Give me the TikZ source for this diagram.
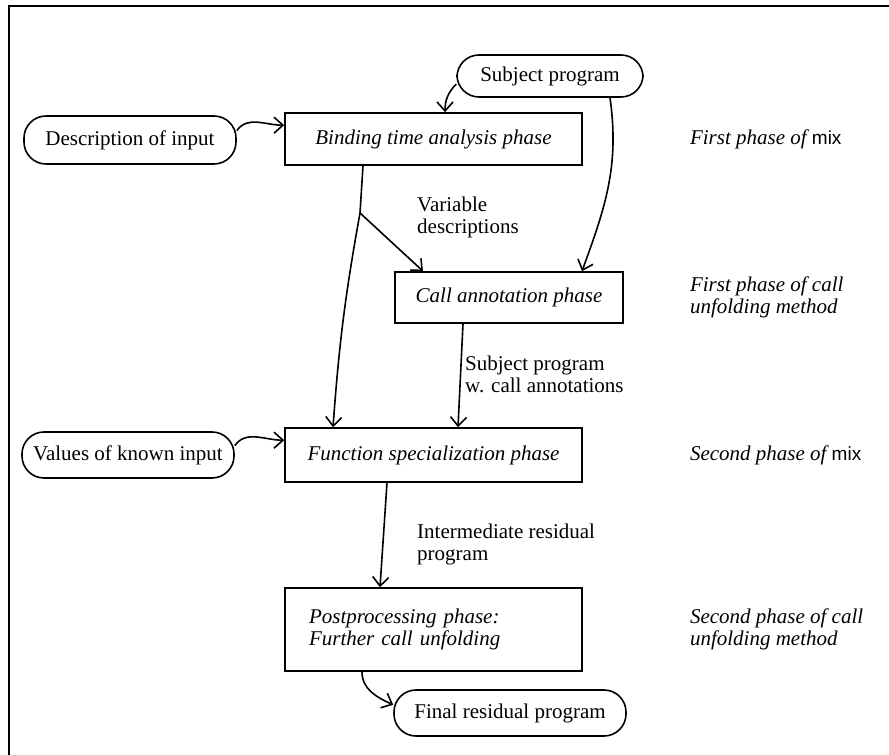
\documentclass[tikz,border=0pt]{standalone}
\usepackage{fontspec}
\setmainfont{Liberation Serif}
\setsansfont{Liberation Sans}
\usetikzlibrary{arrows.meta, positioning}

\newcommand{\mixname}{{\upshape\sffamily\fontsize{19}{22}\selectfont mix}}

\begin{document}
\begin{tikzpicture}[
    x=1pt, y=1pt,
    every node/.style={font=\fontsize{21}{22}\selectfont},
    phase/.style={
        rectangle, draw, line width=1.6pt,
        minimum width=297pt, inner sep=0pt,
        font=\fontsize{21}{22}\selectfont\itshape
    },
    blob/.style={
        rectangle, draw, rounded corners=22pt,
        line width=1.6pt, inner sep=0pt
    },
    side/.style={
        font=\fontsize{21}{22}\selectfont\itshape,
        align=left, inner sep=0pt
    },
    flowlabel/.style={align=left, inner sep=0pt, anchor=west},
    arr/.style={
        -{Straight Barb[length=9pt,width=16pt]},
        line width=1.6pt
    },
]
\useasboundingbox (0,0) rectangle (889,755);

% frame
\draw[line width=1.6pt] (9,0) -- (9,749) -- (889,749);

% ROW 1
\node[blob, minimum width=186pt, minimum height=42pt] (subj) at (550,679) {Subject program};
\node[phase, minimum height=52pt] (bta) at (433.5,616) {Binding time analysis phase};
\node[blob, minimum width=212pt, minimum height=48pt] (desc) at (130,615) {Description of input};
\node[side, right=107pt of bta] (bta-note) {First phase of \mixname};

% ROW 2
\coordinate (vd) at (360,542);
\node[flowlabel] (vd-label) at (417,538) {Variable\\descriptions};
\node[phase, minimum width=228pt, minimum height=51pt] (call) at (509,457.5) {Call annotation phase};
\node[side, right=66pt of call] (call-note) {First phase of call\\unfolding method};

% ROW 3
\node[flowlabel] (sp-label) at (465,381) {Subject program\\w. call annotations};
\node[phase, minimum height=54pt] (fsp) at (433.5,300) {Function specialization phase};
\node[blob, minimum width=212pt, minimum height=46pt] (vals) at (128,300) {Values of known input};
\node[side, right=107pt of fsp] (fsp-note) {Second phase of \mixname};

% ROW 4
\node[flowlabel] (ir-label) at (417,211) {Intermediate residual\\program};
\node[phase, minimum height=83pt, text width=249pt, align=left] (post) at (433.5,125.5) {Postprocessing phase:\\Further call unfolding};
\node[side, right=107pt of post] (post-note) {Second phase of call\\unfolding method};
\node[blob, minimum width=232pt, minimum height=46pt] (final) at (510,42) {Final residual program};

% connectors
\draw[arr] (desc.5) to[out=55,in=180] ([yshift=-13pt]bta.north west);
\draw[arr] (subj.185) to[out=225,in=90] ([xshift=11.5pt]bta.north);
\draw[arr] ([xshift=60pt]subj.south) to[out=-82,in=70] ([xshift=73pt]call.north);
\draw[line width=1.6pt] ([xshift=-70.5pt]bta.south) -- (vd);
\draw[arr] (vd) to[bend right=3] ([xshift=-100.5pt]fsp.north);
\draw[arr] (vd) -- ([xshift=-86pt]call.north);
\draw[arr] ([xshift=-46pt]call.south) -- ([xshift=24.5pt]fsp.north);
\draw[arr] (vals.5) to[out=55,in=180] ([yshift=-13pt]fsp.north west);
\draw[arr] ([xshift=-46.5pt]fsp.south) -- ([xshift=-53.5pt]post.north);
\draw[arr] ([xshift=-71.5pt]post.south) to[out=-90,in=155] (final.176);

\end{tikzpicture}
\end{document}
